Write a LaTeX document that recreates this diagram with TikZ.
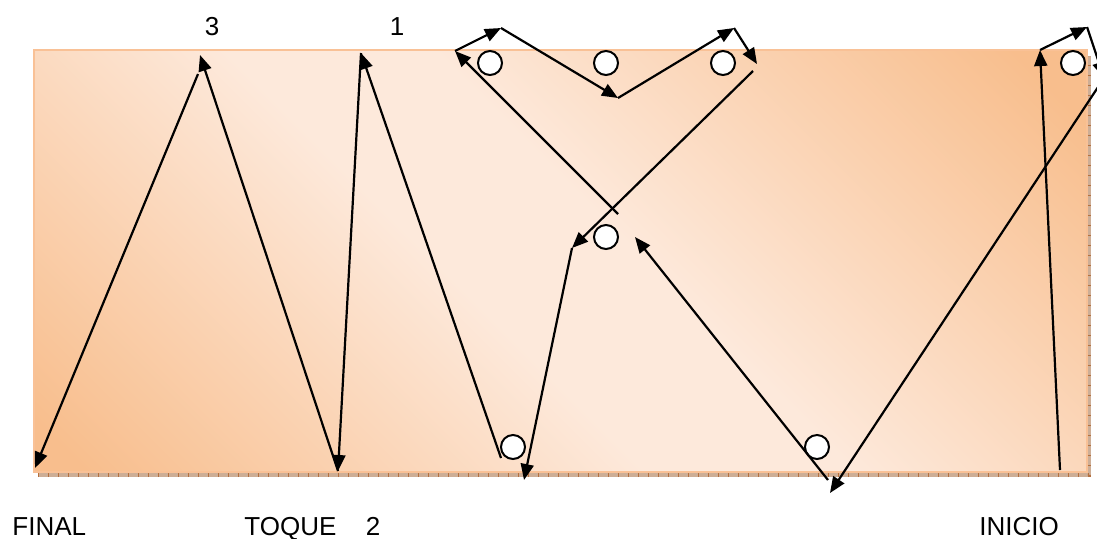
\documentclass[tikz,border=0pt]{standalone}
\usepackage{fontspec}
\setmainfont{Liberation Sans}
\usetikzlibrary{arrows.meta}
\definecolor{campodark}{HTML}{F8BE8D}
\definecolor{campolight}{HTML}{FDE9DB}
\definecolor{campoline}{HTML}{F9C196}
\definecolor{sombra}{HTML}{CDAE96}
\definecolor{sombratick}{HTML}{B5703F}
\pgfdeclarehorizontalshading{campo}{100bp}{color(0bp)=(campodark); color(17bp)=(campodark);
  color(44bp)=(campolight); color(54bp)=(campolight); color(82bp)=(campodark); color(100bp)=(campodark)}
\tikzset{
  ball/.style   = {circle, draw=black, fill=white, line width=1pt,
                   minimum size=12pt, inner sep=0pt},
  mov/.style    = {-{Triangle[length=8pt,width=6.5pt]}, line width=1.1pt},
  lbl/.style    = {font=\fontsize{13}{15}\selectfont, inner sep=0pt},
  borde/.style  = {draw=campoline, line width=1.2pt},
  sombra/.style = {draw=sombra, line width=2pt},
  ticks/.style  = {draw=sombratick, line width=2pt, dash pattern=on 0.6pt off 4.4pt},
}

\begin{document}
\begin{tikzpicture}[x=0.5pt, y=-0.5pt]
\useasboundingbox (0,0) rectangle (1097,538);
\clip (0,0) rectangle (1097,538);

% campo
\fill[shading=campo, shading angle=45] (34,50) rectangle (1087,472);
\draw[sombra] (38,475) -- (1089,475) -- (1089,56);
\draw[ticks]  (38,475) -- (1089,475) -- (1089,56);
\draw[borde]  (34,50) rectangle (1087,472);

% balones
\node[ball] (b1) at (490,63)  {};
\node[ball] (b2) at (606,63)  {};
\node[ball] (b3) at (723,63)  {};
\node[ball] (b4) at (1073,63) {};
\node[ball] (b5) at (606,237) {};
\node[ball] (b6) at (513,447) {};
\node[ball] (b7) at (817,447) {};

% textos
\node[lbl, anchor=base]      (t3)     at (212,35)  {3};
\node[lbl, anchor=base]      (t1)     at (397,35)  {1};
\node[lbl, anchor=base west] (final)  at (12,535)  {FINAL};
\node[lbl, anchor=base west] (toque)  at (244,535) {TOQUE};
\node[lbl, anchor=base]      (t2)     at (373,535) {2};
\node[lbl, anchor=base west] (inicio) at (979,535) {INICIO};

% puntos del recorrido
\coordinate (ini) at (1060,470);
\coordinate (p1)  at (1040,50);
\coordinate (p2)  at (1087,27);
\coordinate (p3)  at (1104,78);
\coordinate (q1)  at (830,493);
\coordinate (q2)  at (828,480);
\coordinate (q3)  at (635,237);
\coordinate (q4)  at (618,214);
\coordinate (p4)  at (455,51);
\coordinate (p5)  at (501,28);
\coordinate (p6)  at (618,98);
\coordinate (p7)  at (734,28);
\coordinate (p8)  at (757,64);
\coordinate (q5)  at (753,71);
\coordinate (q6)  at (572,248);
\coordinate (q7)  at (524,480);
\coordinate (q8)  at (501,458);
\coordinate (q9)  at (361,53);
\coordinate (q10) at (338,471);
\coordinate (q11) at (200,55);
\coordinate (q12) at (198,74);
\coordinate (fin) at (35,468);

% recorrido
\draw[mov] (ini) -- (p1);
\draw[mov] (p1)  -- (p2);
\draw[mov] (p2)  -- (p3);
\draw[mov] (p3)  -- (q1);
\draw[mov] (q2)  -- (q3);
\draw[mov] (q4)  -- (p4);
\draw[mov] (p4)  -- (p5);
\draw[mov] (p5)  -- (p6);
\draw[mov] (p6)  -- (p7);
\draw[mov] (p7)  -- (p8);
\draw[mov] (q5)  -- (q6);
\draw[mov] (q6)  -- (q7);
\draw[mov] (q8)  -- (q9);
\draw[mov] (q9)  -- (q10);
\draw[mov] (q10) -- (q11);
\draw[mov] (q12) -- (fin);
\end{tikzpicture}
\end{document}
